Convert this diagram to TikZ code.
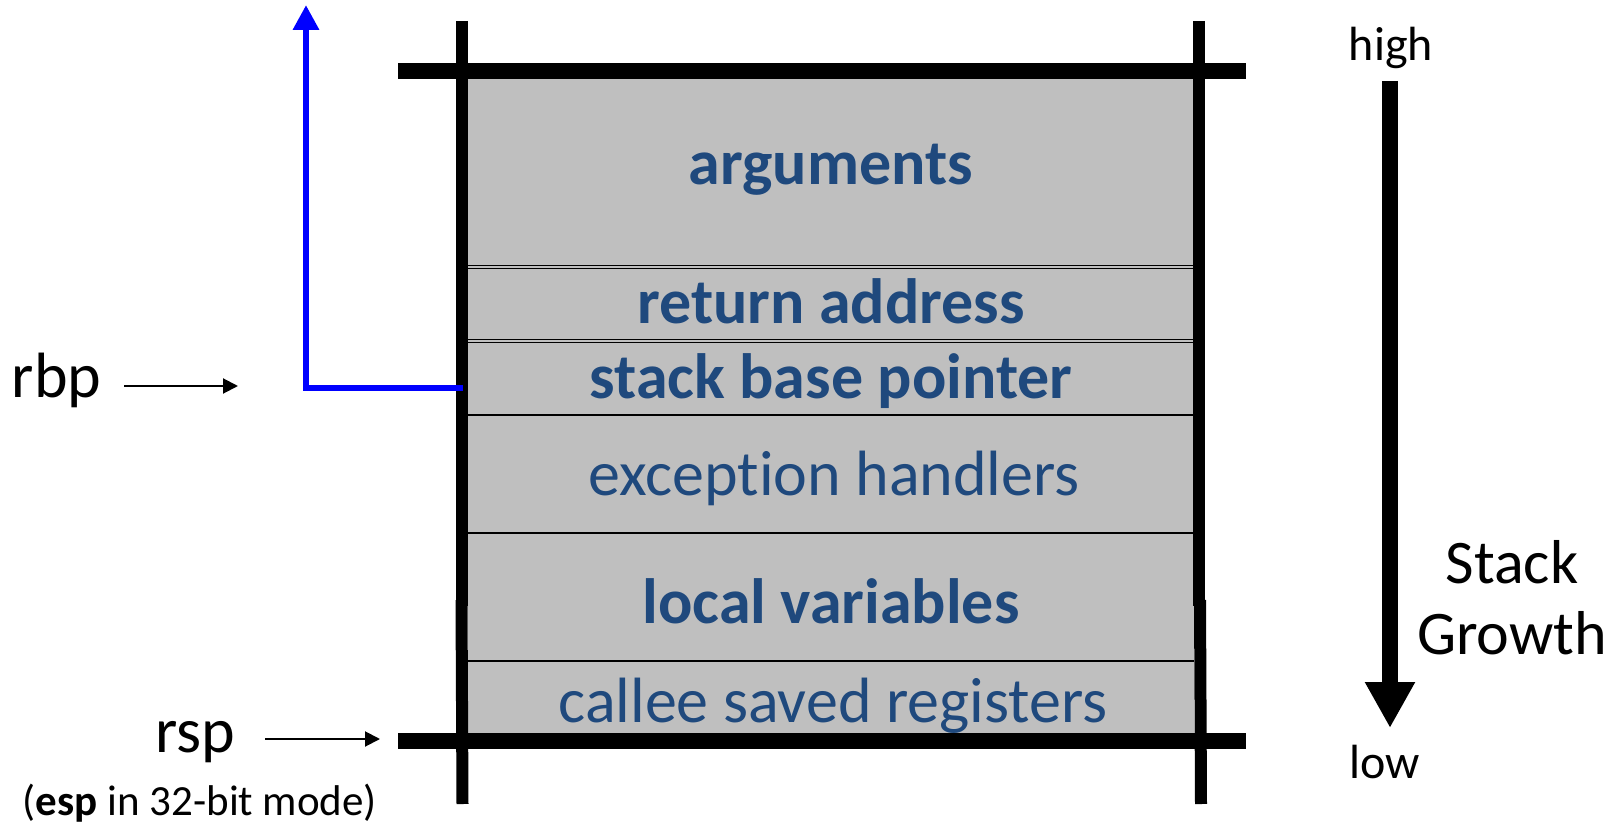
\documentclass[tikz,border=0pt]{standalone}
\usepackage{fontspec}
\setmainfont{Carlito}[Ligatures=NoCommon]
\usetikzlibrary{arrows.meta}
\definecolor{stackblue}{RGB}{31,73,125}
\definecolor{cellgray}{RGB}{191,191,191}
\tikzset{
  celltext/.style={inner sep=0pt,anchor=base,text=stackblue,font=\fontsize{64}{72}\selectfont},
  boldtext/.style={celltext,font=\fontsize{64}{72}\selectfont\bfseries},
  bar/.style={line width=16pt,black},
  post/.style={line width=12pt,black},
  sep/.style={line width=1.6pt,black},
  plain/.style={inner sep=0pt,anchor=base,text=black},
  ptr/.style={line width=2pt,-{Triangle[width=15pt,length=15pt]}},
  bluelink/.style={line width=6.5pt,blue,-{Triangle[width=25pt,length=25pt]}},
  growth/.style={line width=16pt,-{Triangle[width=47pt,length=46pt]}}
}
\begin{document}
\begin{tikzpicture}[x=1pt,y=-1pt]
\useasboundingbox (0,0) rectangle (1618,824);
% gray frame body
\fill[cellgray] (468,79) rectangle (1194,733);
% separators
\draw[sep,line width=1.2pt] (468,265.5) -- (1194,265.5);
\draw[sep,line width=1.2pt] (468,268.5) -- (1194,268.5);
\draw[sep,line width=1.2pt] (468,339.5) -- (1194,339.5);
\draw[sep,line width=1.2pt] (468,342.5) -- (1194,342.5);
\draw[sep] (468,415) -- (1194,415);
\draw[sep] (468,533) -- (1194,533);
\draw[sep,line width=2pt] (468,661) -- (1194,661);
% cell texts
\node[boldtext] (args) at (831,185) {arguments};
\node[boldtext] (ret) at (831,323) {return address};
\node[boldtext] (sbp) at (831,398) {stack base pointer};
\node[celltext] (exc) at (834,495) {exception handlers};
\node[boldtext] (loc) at (831,623) {local variables};
\node[celltext] (cal) at (833,722) {callee saved registers};
% frame bars
\draw[bar] (398,71) -- (1246,71);
\draw[bar] (398,740.5) -- (1246,740.5);
\draw[post] (462,21) -- (462,606);
\draw[post] (461.5,600) -- (462.5,804);
\draw[post] (1199,21) -- (1199,606);
\draw[post] (1200,600) -- (1201,804);
% blue link from saved base pointer
\coordinate (sbpL) at (463,388);
\coordinate (bend) at (306,388);
\coordinate (up) at (306,5);
\draw[bluelink] (sbpL) -- (bend) -- (up);
% left labels
\node[plain,font=\fontsize{64}{70}\selectfont] (rbp) at (56.5,397) {rbp};
\node[plain,font=\fontsize{64}{70}\selectfont] (rsp) at (195,752) {rsp};
\node[plain,font=\fontsize{43}{48}\selectfont] (esp) at (200,815) {(\textbf{esp} in 32-bit mode)};
\coordinate (rbpS) at (124,386);
\coordinate (rbpE) at (238,386);
\coordinate (rspS) at (265,739);
\coordinate (rspE) at (380,739);
\draw[ptr] (rbpS) -- (rbpE);
\draw[ptr] (rspS) -- (rspE);
% right side
\node[plain,font=\fontsize{48}{52}\selectfont] (high) at (1391,61) {high};
\node[plain,font=\fontsize{48}{52}\selectfont] (low) at (1385,778) {low};
\node[plain,align=center,font=\fontsize{62}{71}\selectfont] (sg) at (1512,654) {Stack\\Growth};
\coordinate (gTop) at (1390,81);
\coordinate (gTip) at (1390,728);
\draw[growth] (gTop) -- (gTip);
\end{tikzpicture}
\end{document}
